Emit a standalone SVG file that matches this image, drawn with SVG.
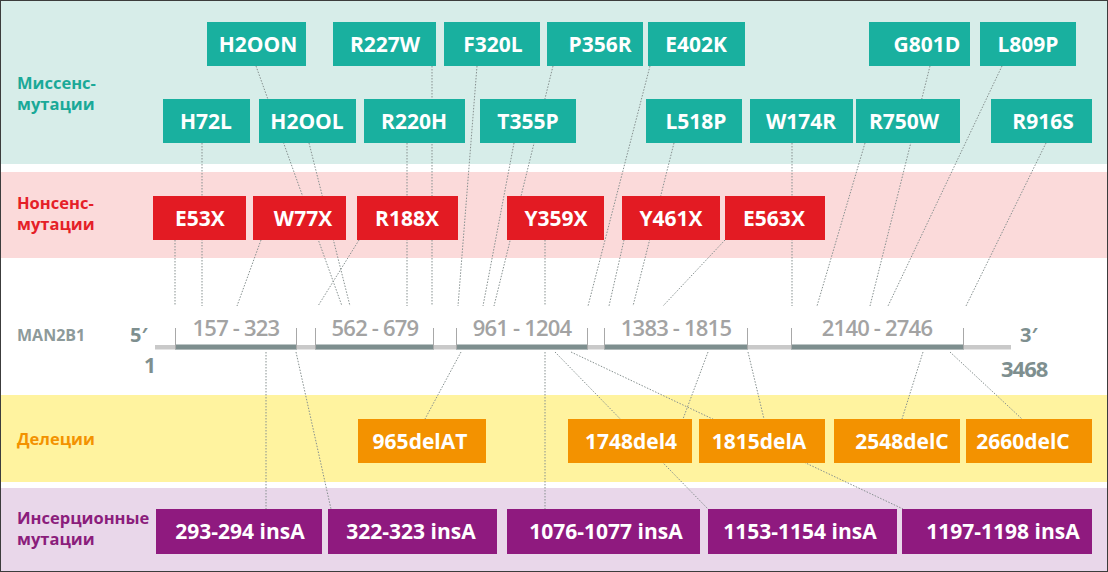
<svg xmlns="http://www.w3.org/2000/svg" width="1108" height="572" viewBox="0 0 1108 572">
<style>
.bt{font-family:"Open Sans","Liberation Sans",sans-serif;font-weight:700;font-size:21px;fill:#fff;text-anchor:middle}
.lb{font-family:"Open Sans","Liberation Sans",sans-serif;font-weight:700;font-size:16.5px}
.gl{font-family:"Open Sans","Liberation Sans",sans-serif;font-weight:600;font-size:22px;fill:#a3a3a3;text-anchor:middle;letter-spacing:-0.8px}
.gn{font-family:"Open Sans","Liberation Sans",sans-serif;font-weight:700;fill:#7e8f8f}
.mis{fill:#19b09f}
.non{fill:#e31b23}
.del{fill:#f39200}
.ins{fill:#8f1a7f}
.c{stroke:#86908f;stroke-width:1;stroke-dasharray:1.5 1.5;fill:none}
.tk{stroke:#a8a8a8;stroke-width:1}
</style>
<!-- bands -->
<rect x="0" y="0" width="1108" height="572" fill="#ffffff"/>
<rect x="0" y="0" width="1108" height="164" fill="#d7ede9"/>
<rect x="0" y="172" width="1108" height="86" fill="#fbdada"/>
<rect x="0" y="395" width="1108" height="87" fill="#fff39f"/>
<rect x="0" y="488" width="1108" height="84" fill="#e9d7ea"/>

<g id="labels">
<text class="lb" fill="#1aa998" x="17" y="89">Миссенс-</text>
<text class="lb" fill="#1aa998" x="17" y="110">мутации</text>
<text class="lb" fill="#e52027" x="17" y="209">Нонсенс-</text>
<text class="lb" fill="#e52027" x="17" y="230">мутации</text>
<text class="lb" fill="#8d9a9a" x="17" y="341" style="font-size:16px">MAN2B1</text>
<text class="lb" fill="#f39200" x="17" y="445">Делеции</text>
<text class="lb" fill="#8b1d7c" x="17" y="524">Инсерционные</text>
<text class="lb" fill="#8b1d7c" x="17" y="545">мутации</text>
</g>

<g id="connectors">
<line class="c" x1="175" y1="240" x2="175" y2="306"/>
<line class="c" x1="202" y1="143" x2="202" y2="306"/>
<line class="c" x1="261" y1="240" x2="237" y2="306"/>
<line class="c" x1="256" y1="66" x2="342" y2="306"/>
<line class="c" x1="309" y1="143" x2="350" y2="306"/>
<line class="c" x1="359" y1="240" x2="318" y2="306"/>
<line class="c" x1="407" y1="143" x2="407" y2="306"/>
<line class="c" x1="432" y1="66" x2="432" y2="306"/>
<line class="c" x1="477" y1="66" x2="458" y2="306"/>
<line class="c" x1="514" y1="143" x2="483" y2="306"/>
<line class="c" x1="553" y1="66" x2="494" y2="306"/>
<line class="c" x1="545" y1="240" x2="545" y2="306"/>
<line class="c" x1="650" y1="66" x2="588" y2="306"/>
<line class="c" x1="624" y1="240" x2="609" y2="306"/>
<line class="c" x1="674" y1="143" x2="633" y2="306"/>
<line class="c" x1="725" y1="240" x2="663" y2="306"/>
<line class="c" x1="792" y1="143" x2="792" y2="306"/>
<line class="c" x1="865" y1="143" x2="817" y2="306"/>
<line class="c" x1="930" y1="66" x2="870" y2="306"/>
<line class="c" x1="1002" y1="66" x2="888" y2="306"/>
<line class="c" x1="1046" y1="143" x2="966" y2="306"/>
<line class="c" x1="266" y1="352" x2="266" y2="509"/>
<line class="c" x1="296" y1="352" x2="331" y2="509"/>
<line class="c" x1="461" y1="352" x2="425" y2="419"/>
<line class="c" x1="545" y1="352" x2="545" y2="509"/>
<line class="c" x1="555" y1="352" x2="708" y2="509"/>
<line class="c" x1="571" y1="352" x2="903" y2="509"/>
<line class="c" x1="708" y1="352" x2="683" y2="419"/>
<line class="c" x1="748" y1="352" x2="764" y2="419"/>
<line class="c" x1="923" y1="352" x2="902" y2="419"/>
<line class="c" x1="950" y1="352" x2="1022" y2="419"/>
</g>

<g id="gene">
<rect x="155" y="345" width="856" height="4.5" fill="#c9c9c9"/>
<rect x="175" y="344.5" width="122" height="5" fill="#7d8e8e"/>
<rect x="315" y="344.5" width="119" height="5" fill="#7d8e8e"/>
<rect x="456" y="344.5" width="132" height="5" fill="#7d8e8e"/>
<rect x="604" y="344.5" width="144" height="5" fill="#7d8e8e"/>
<rect x="791" y="344.5" width="173" height="5" fill="#7d8e8e"/>
<line class="tk" x1="175.5" y1="328" x2="175.5" y2="349"/>
<line class="tk" x1="296.5" y1="328" x2="296.5" y2="349"/>
<line class="tk" x1="315.5" y1="328" x2="315.5" y2="349"/>
<line class="tk" x1="433.5" y1="328" x2="433.5" y2="349"/>
<line class="tk" x1="456.5" y1="328" x2="456.5" y2="349"/>
<line class="tk" x1="587.5" y1="328" x2="587.5" y2="349"/>
<line class="tk" x1="604.5" y1="328" x2="604.5" y2="349"/>
<line class="tk" x1="747.5" y1="328" x2="747.5" y2="349"/>
<line class="tk" x1="791.5" y1="328" x2="791.5" y2="349"/>
<line class="tk" x1="963.5" y1="328" x2="963.5" y2="349"/>
<text class="gl" x="236" y="336">157 - 323</text>
<text class="gl" x="375" y="336">562 - 679</text>
<text class="gl" x="522" y="336">961 - 1204</text>
<text class="gl" x="676" y="336">1383 - 1815</text>
<text class="gl" x="877" y="336">2140 - 2746</text>
<text class="gn" x="130" y="342" style="font-size:20px">5′</text>
<text class="gn" x="144" y="373" style="font-size:21px">1</text>
<text class="gn" x="1020" y="342" style="font-size:20px">3′</text>
<text class="gn" x="1001" y="377" style="font-size:22px;letter-spacing:-1px">3468</text>
</g>

<g id="n-H2OON"><rect class="mis" x="207" y="22" width="99" height="44"/><text class="bt" x="258" y="51.5">H2OON</text></g>
<g id="n-R227W"><rect class="mis" x="333" y="22" width="103" height="44"/><text class="bt" x="385" y="51.5">R227W</text></g>
<g id="n-F320L"><rect class="mis" x="444" y="22" width="96" height="44"/><text class="bt" x="493" y="51.5">F320L</text></g>
<g id="n-P356R"><rect class="mis" x="547" y="22" width="96" height="44"/><text class="bt" x="600" y="51.5">P356R</text></g>
<g id="n-E402K"><rect class="mis" x="648" y="22" width="97" height="44"/><text class="bt" x="696" y="51.5">E402K</text></g>
<g id="n-G801D"><rect class="mis" x="869" y="22" width="101" height="44"/><text class="bt" x="927" y="51.5">G801D</text></g>
<g id="n-L809P"><rect class="mis" x="980" y="22" width="96" height="44"/><text class="bt" x="1028" y="51.5">L809P</text></g>

<g id="n-H72L"><rect class="mis" x="163" y="99" width="87" height="44"/><text class="bt" x="206" y="128.5">H72L</text></g>
<g id="n-H2OOL"><rect class="mis" x="259" y="99" width="97" height="44"/><text class="bt" x="307" y="128.5">H2OOL</text></g>
<g id="n-R220H"><rect class="mis" x="364" y="99" width="101" height="44"/><text class="bt" x="414" y="128.5">R220H</text></g>
<g id="n-T355P"><rect class="mis" x="480" y="99" width="96" height="44"/><text class="bt" x="528" y="128.5">T355P</text></g>
<g id="n-L518P"><rect class="mis" x="646" y="99" width="96" height="44"/><text class="bt" x="696" y="128.5">L518P</text></g>
<g id="n-W174R"><rect class="mis" x="750" y="99" width="103" height="44"/><text class="bt" x="801" y="128.5">W174R</text></g>
<g id="n-R750W"><rect class="mis" x="856" y="99" width="104" height="44"/><text class="bt" x="904" y="128.5">R750W</text></g>
<g id="n-R916S"><rect class="mis" x="991" y="99" width="101" height="44"/><text class="bt" x="1043" y="128.5">R916S</text></g>

<g id="n-E53X"><rect class="non" x="153" y="196" width="93" height="44"/><text class="bt" x="200" y="225.5">E53X</text></g>
<g id="n-W77X"><rect class="non" x="253" y="196" width="93" height="44"/><text class="bt" x="303" y="225.5">W77X</text></g>
<g id="n-R188X"><rect class="non" x="357" y="196" width="101" height="44"/><text class="bt" x="407" y="225.5">R188X</text></g>
<g id="n-Y359X"><rect class="non" x="507" y="196" width="97" height="44"/><text class="bt" x="556" y="225.5">Y359X</text></g>
<g id="n-Y461X"><rect class="non" x="622" y="196" width="98" height="44"/><text class="bt" x="671" y="225.5">Y461X</text></g>
<g id="n-E563X"><rect class="non" x="725" y="196" width="100" height="44"/><text class="bt" x="774" y="225.5">E563X</text></g>

<g id="n-965delAT"><rect class="del" x="358" y="419" width="128" height="44"/><text class="bt" x="420" y="448.5">965delAT</text></g>
<g id="n-1748del4"><rect class="del" x="568" y="419" width="124" height="44"/><text class="bt" x="631" y="448.5">1748del4</text></g>
<g id="n-1815delA"><rect class="del" x="699" y="419" width="126" height="44"/><text class="bt" x="759" y="448.5">1815delA</text></g>
<g id="n-2548delC"><rect class="del" x="834" y="419" width="126" height="44"/><text class="bt" x="902" y="448.5">2548delC</text></g>
<g id="n-2660delC"><rect class="del" x="966" y="419" width="126" height="44"/><text class="bt" x="1023" y="448.5">2660delC</text></g>

<g id="n-293-294insA"><rect class="ins" x="156" y="509" width="166" height="45"/><text class="bt" x="240" y="539">293-294 insA</text></g>
<g id="n-322-323insA"><rect class="ins" x="328" y="509" width="169" height="45"/><text class="bt" x="411" y="539">322-323 insA</text></g>
<g id="n-1076-1077insA"><rect class="ins" x="507" y="509" width="193" height="45"/><text class="bt" x="606" y="539">1076-1077 insA</text></g>
<g id="n-1153-1154insA"><rect class="ins" x="708" y="509" width="189" height="45"/><text class="bt" x="800" y="539">1153-1154 insA</text></g>
<g id="n-1197-1198insA"><rect class="ins" x="902" y="509" width="190" height="45"/><text class="bt" x="1003" y="539">1197-1198 insA</text></g>

<rect x="0" y="0" width="1108" height="572" fill="none" stroke="#3c3c3c" stroke-width="2"/>
</svg>
